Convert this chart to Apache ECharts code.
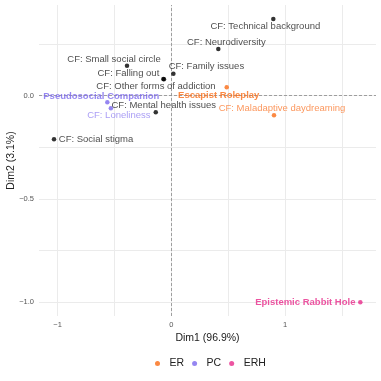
<!DOCTYPE html>
<html>
<head>
<meta charset="utf-8">
<script src="https://cdn.jsdelivr.net/npm/echarts@6/dist/echarts.min.js"></script>
<style>
  html, body { margin: 0; padding: 0; background: #fff; }
  #chart { width: 381px; height: 381px; }
</style>
</head>
<body>
<div id="chart"></div>
<script>
// points
var names = ['CF: Technical background', 'CF: Neurodiversity', 'CF: Small social circle', 'CF: Family issues',
  'CF: Falling out', 'CF: Other forms of addiction', 'CF: Mental health issues', 'CF: Social stigma',
  'CF: Loneliness', 'CF: Maladaptive daydreaming',
  'Escapist Roleplay', 'Pseudosocial Companion', 'Epistemic Rabbit Hole'];
var dim1 = [0.897, 0.413, -0.39, 0.018, -0.070, -0.065, -0.137, -1.032, -0.532, 0.903, 0.487, -0.563, 1.662];
var dim2 = [0.371, 0.226, 0.145, 0.106, 0.081, 0.080, -0.080, -0.211, -0.061, -0.095, 0.041, -0.032, -1.0];
var group = ['CF', 'CF', 'CF', 'CF', 'CF', 'CF', 'CF', 'CF', 'PC', 'ER', 'ER', 'PC', 'ERH'];
var isMain = [0, 0, 0, 0, 0, 0, 0, 0, 0, 0, 1, 1, 1];

var xTicks = [-1, 0, 1];
var yTicks = [-1.0, -0.5, 0.0];
var xGrid = [-1, -0.5, 0, 0.5, 1, 1.5];
var yGrid = [-1, -0.75, -0.5, -0.25, 0, 0.25];
var legendNames = ['ER', 'PC', 'ERH'];

// label placement (repelled labels), pixels relative to the point
var labelOffsets = [[-8, 7], [8, -7], [-13, -6], [33, -7], [-35, -6], [-8, 7.5], [8, -6.5], [42, 0],
  [8, 7], [8, -6.6], [-8, 8.4], [-6, -6], [-55, 0]];

var colors = { CF: '#000000', ER: '#fa6b14', PC: '#7b68ee', ERH: '#e7298a' };
var lightColors = { ER: '#fb7d35', PC: '#9586f2' };
var groups = ['CF', 'ER', 'PC', 'ERH'];

var seriesData = {};
var seriesIdx = {};
groups.forEach(function (g) { seriesData[g] = []; seriesIdx[g] = []; });
for (var i = 0; i < names.length; i++) {
  var g = group[i];
  seriesIdx[g].push(i);
  seriesData[g].push({
    name: names[i],
    value: [dim1[i], dim2[i]],
    label: {
      show: true,
      position: 'inside',
      formatter: names[i],
      color: g === 'CF' ? '#222' : (isMain[i] ? colors[g] : lightColors[g]),
      fontWeight: isMain[i] ? 'bold' : 'normal',
      fontSize: 9.5,
      fontFamily: 'Liberation Sans, Arial, sans-serif'
    }
  });
}

function gridLines() {
  var d = [];
  xGrid.forEach(function (v) { d.push({ xAxis: v }); });
  yGrid.forEach(function (v) { d.push({ yAxis: v }); });
  return d;
}

var series = [{
  type: 'scatter',
  data: [],
  silent: true,
  z: 1,
  markLine: {
    silent: true,
    symbol: 'none',
    label: { show: false },
    animation: false,
    lineStyle: { color: '#ebebeb', width: 1, type: 'solid' },
    data: gridLines()
  }
}, {
  type: 'scatter',
  data: [],
  silent: true,
  z: 2,
  markLine: {
    silent: true,
    symbol: 'none',
    label: { show: false },
    animation: false,
    lineStyle: { color: '#8a8a8a', width: 0.8, type: [3, 2] },
    data: [{ xAxis: 0 }, { yAxis: 0 }]
  }
}];

groups.forEach(function (g) {
  series.push({
    name: g,
    type: 'scatter',
    symbolSize: 4.5,
    itemStyle: { color: colors[g] },
    z: 5,
    labelLayout: function (p) {
      var off = labelOffsets[seriesIdx[g][p.dataIndex]];
      return { dx: off[0], dy: off[1], hideOverlap: false };
    },
    data: seriesData[g]
  });
});

var chart = echarts.init(document.getElementById('chart'), null, { renderer: 'canvas' });
chart.setOption({
  animation: false,
  backgroundColor: '#fff',
  textStyle: { fontFamily: 'Liberation Sans, Arial, sans-serif' },
  grid: { left: 39, right: 5, top: 5, bottom: 65, containLabel: false, outerBoundsMode: 'none' },
  legend: {
    data: legendNames,
    top: 353,
    left: 150,
    icon: 'circle',
    itemWidth: 14,
    itemHeight: 5,
    itemGap: 8,
    textStyle: { fontSize: 10.5, color: '#222' }
  },
  xAxis: {
    type: 'value',
    min: -1.164,
    max: 1.80,
    name: 'Dim1 (96.9%)',
    nameLocation: 'middle',
    nameGap: 16.5,
    nameMoveOverlap: false,
    nameTextStyle: { fontSize: 10.5, color: '#222' },
    axisLine: { show: false },
    axisTick: { show: false },
    splitLine: { show: false },
    axisLabel: {
      customValues: xTicks,
      color: '#555',
      fontSize: 7.5,
      margin: 5,
      formatter: function (v) { return String(v).replace('-', '\u2212'); }
    }
  },
  yAxis: {
    type: 'value',
    min: -1.066,
    max: 0.439,
    name: 'Dim2 (3.1%)',
    nameLocation: 'middle',
    nameGap: 28,
    nameRotate: 90,
    nameMoveOverlap: false,
    nameTextStyle: { fontSize: 10.5, color: '#222', verticalAlign: 'middle' },
    axisLine: { show: false },
    axisTick: { show: false },
    splitLine: { show: false },
    axisLabel: {
      customValues: yTicks,
      color: '#555',
      fontSize: 7.5,
      margin: 5,
      formatter: function (v) { return v.toFixed(1).replace('-', '\u2212'); }
    }
  },
  series: series
});
</script>
</body>
</html>
